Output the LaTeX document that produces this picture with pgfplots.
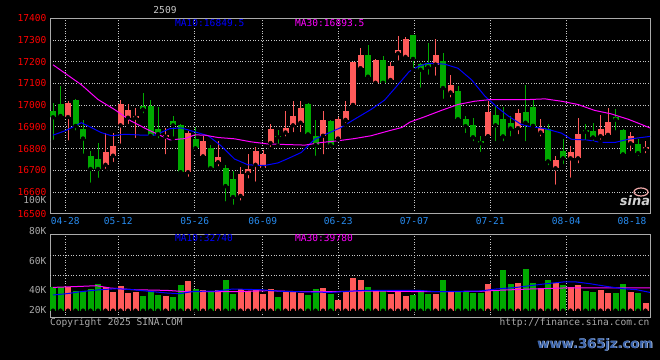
\documentclass[border=0pt]{standalone}
\usepackage{pgfplots}
\pgfplotsset{compat=1.18}
\usepackage{pgfplotstable}
\usepackage{fontspec}
\setmainfont{DejaVu Sans}
\newfontfamily\monof{DejaVu Sans Mono}
\newcommand\mf{\monof\fontsize{9.6}{11}\selectfont}
\definecolor{upc}{RGB}{255,90,90}
\definecolor{dnc}{RGB}{0,170,0}
\definecolor{gridc}{RGB}{200,200,200}
\definecolor{framec}{RGB}{170,170,170}
\definecolor{datec}{RGB}{40,140,240}
\definecolor{ma10}{RGB}{0,0,255}
\definecolor{ma30}{RGB}{255,0,255}
\definecolor{txtg}{RGB}{170,170,170}

% rising days: index, open, high, low, close, volume (K)
\pgfplotstableread{
i o h l c v
2 16945 17018 16828 17011 43.3
7 16725 16874 16697 16782 43.3
8 16767 16874 16729 16814 38.3
9 16907 17023 16813 17003 45.0
10 16942 17003 16904 16979 37.3
11 16942 16988 16839 16950 39.0
15 16855 16897 16764 16864 34.3
18 16691 16881 16661 16871 50.0
20 16764 16856 16752 16833 41.0
22 16737 16833 16709 16760 41.0
25 16582 16714 16551 16682 41.7
26 16687 16773 16653 16706 40.0
27 16725 16805 16638 16787 40.3
28 16711 16795 16708 16775 37.0
29 16825 16915 16798 16889 42.0
31 16874 16974 16846 16897 38.3
32 16907 17018 16866 16951 40.0
33 16919 17018 16866 16988 37.7
36 16859 16973 16764 16932 43.0
38 16846 16947 16843 16938 31.0
39 16932 17018 16909 16971 40.0
40 17001 17200 16998 17198 53.0
41 17170 17265 17154 17230 51.0
43 17103 17211 17099 17207 40.0
45 17116 17198 17111 17181 37.0
46 17239 17319 17196 17253 41.0
47 17222 17312 17213 17306 35.0
51 17187 17303 17126 17233 37.0
53 17058 17138 17026 17094 40.0
58 16856 17021 16856 16970 47.0
62 16894 16980 16857 16965 48.0
65 16874 16938 16846 16894 42.0
67 16709 16764 16624 16746 48.0
69 16755 16813 16656 16782 44.0
70 16755 16942 16723 16865 46.0
73 16857 16956 16831 16892 41.0
74 16863 16986 16859 16924 38.0
77 16824 16878 16778 16860 39.0
79 16798 16833 16769 16807 28.0
}\up

% falling days
\pgfplotstableread{
i o h l c v
0 16974 17008 16831 16944 43.3
1 17003 17088 16938 16950 43.3
3 17023 17029 16874 16904 39.3
4 16892 16930 16767 16846 40.0
5 16764 16789 16633 16706 41.7
6 16750 16824 16656 16706 47.0
12 16997 17056 16953 16980 35.0
13 16997 17023 16849 16859 39.3
14 16892 16991 16839 16866 36.0
16 16928 16951 16846 16907 34.0
17 16907 16912 16679 16691 46.0
19 16843 16900 16782 16801 41.7
21 16801 16816 16688 16709 40.0
23 16709 16723 16547 16627 51.0
24 16661 16696 16532 16577 37.0
30 16860 16884 16813 16852 34.0
34 17005 17008 16859 16865 36.0
35 16860 16932 16757 16816 42.0
37 16928 16932 16793 16816 37.0
42 17230 17275 17111 17131 44.0
44 17207 17225 17096 17103 40.0
48 17321 17325 17163 17213 36.0
49 17189 17193 17071 17163 40.0
50 17193 17284 17131 17175 37.0
52 17204 17242 17020 17079 51.0
54 17064 17088 16930 16935 40.0
55 16938 16951 16862 16903 40.0
56 16910 16942 16825 16852 38.0
57 16834 16860 16775 16825 38.0
59 16956 16997 16825 16907 41.0
60 16938 16991 16825 16856 61.0
61 16919 16951 16846 16892 47.0
63 16970 17093 16825 16919 62.0
64 16992 17023 16904 16904 48.0
66 16889 16915 16714 16741 51.0
68 16787 16842 16720 16755 46.0
71 16887 16915 16828 16878 40.0
72 16883 16919 16825 16851 39.0
75 16947 16983 16874 16933 38.0
76 16886 16889 16760 16773 47.0
78 16819 16842 16757 16779 38.0
}\down

\pgfplotsset{
  chartbase/.style={
    scale only axis, width=600bp, anchor=south west,
    xmin=-0.4, xmax=79.6,
    scaled x ticks=false, scaled y ticks=false,
    axis line style={framec, line width=1bp},
    major tick length=0pt,
    xtick={1.64,8.71,18.9,27.96,38.04,48.17,58.31,68.44},
    xmajorgrids,
    grid style={gridc, line width=0.9bp, dash pattern=on 1bp off 1.6bp},
    clip=true,
  },
  wick/.style={only marks, mark=none, forget plot,
    error bars/.cd, y dir=plus, y explicit, error mark=none,
    error bar style={line width=1bp, solid, color=#1}},
  body/.style={only marks, mark=none, forget plot,
    error bars/.cd, y dir=plus, y explicit, error mark=none,
    error bar style={line width=6bp, solid, color=#1}},
}

\begin{document}
\begin{tikzpicture}
\useasboundingbox (0,0) rectangle (660bp,360bp);
\fill[black] (0,0) rectangle (660bp,360bp);

% ---------- price panel ----------
\begin{axis}[chartbase,
  at={(50bp,146.3bp)}, height=195.4bp,
  ymin=16500, ymax=17400,
  ytick={16500,16600,16700,16800,16900,17000,17100,17200,17300,17400},
  yticklabels={16500,16600,16700,16800,16900,17000,17100,17200,17300,17400},
  yticklabel style={font=\mf, text=red},
  ymajorgrids,
  xticklabels={04-28,05-12,05-26,06-09,06-23,07-07,07-21,08-04},
  xticklabel style={font=\mf, text=datec},
  extra x ticks={79.6}, extra x tick labels={08-18},
  extra x tick style={xmajorgrids=false, xticklabel style={anchor=north east, font=\mf, text=datec}},
]
\addplot[wick=upc] table[x=i, y=l, y error expr=\thisrow{h}-\thisrow{l}] {\up};
\addplot[wick=dnc] table[x=i, y=l, y error expr=\thisrow{h}-\thisrow{l}] {\down};
\addplot[body=upc] table[x=i, y=o, y error expr=\thisrow{c}-\thisrow{o}] {\up};
\addplot[body=dnc] table[x=i, y=c, y error expr=\thisrow{o}-\thisrow{c}] {\down};
% MA10
\addplot[ma10, line width=1bp, mark=none] coordinates {
(0,16862) (1.56,16881) (3.78,16919) (5.1,16897) (6.4,16874) (7.8,16859) (9.6,16866)
(11.8,16862) (13.6,16862) (15.6,16892) (17.1,16895) (18.9,16877) (20.7,16859)
(22.4,16813) (24.2,16752) (26,16725) (28.2,16722) (30,16734) (31.4,16755)
(33.1,16782) (34.9,16843) (36.7,16871) (38.4,16897) (40.2,16935) (42.4,16980)
(44.2,17023) (46,17094) (47.5,17155) (48.7,17178) (50,17193) (52.2,17189)
(54,17170) (55.8,17117) (57.6,17041) (59.3,16988) (60.7,16950) (62.4,16912)
(63.6,16901) (65.6,16892) (67.8,16871) (69.1,16843) (71.3,16839) (73.1,16828)
(74.9,16828) (76.7,16843) (78,16849) (79.6,16856)};
% MA30
\addplot[ma30, line width=1bp, mark=none] coordinates {
(0,17186) (1.56,17148) (3.78,17094) (6,17026) (8.2,16980) (10.4,16927) (12.7,16886)
(14.4,16859) (15.6,16840) (17.6,16846) (18.9,16863) (20.2,16862) (22,16851)
(24.2,16845) (26.4,16831) (28.7,16821) (31.6,16818) (33.6,16816) (35.8,16828)
(38,16836) (40.2,16846) (42.4,16859) (44.7,16881) (46.5,16897) (47.6,16922)
(49.6,16947) (51.8,16976) (54,17003) (56.2,17018) (58.4,17026) (63.6,17026)
(65.6,17029) (67.8,17018) (70,17003) (72.2,16976) (74.4,16960) (76.7,16935)
(78.4,16912) (79.6,16895)};
\end{axis}

% ---------- volume panel ----------
\begin{axis}[chartbase,
  at={(50bp,42bp)}, height=83.7bp,
  ymin=12.7, ymax=96.4,
  ytick={20.4,40.4,70}, yticklabels={20K,40K,60K},
  yticklabel style={font=\mf, text=txtg},
  extra y ticks={55.4,75.4}, extra y tick labels={},
  extra y tick style={grid=major},
  xmajorticks=false,
]
\addplot[body=upc] table[x=i, y expr=20, y error expr=\thisrow{v}-20] {\up};
\addplot[body=dnc] table[x=i, y expr=20, y error expr=\thisrow{v}-20] {\down};
\addplot[ma30, line width=1bp, mark=none] coordinates {
(0,43.3) (3.6,44.3) (5.8,45) (7.6,42.7) (10.7,41) (15.2,40.3) (17.8,39) (24,39)
(28.5,40) (32.9,39) (36.9,39) (41.4,39.7) (50.3,39) (56.9,39.3) (59.1,40.3)
(63.6,41.7) (68,42.7) (73.8,42.7) (79.6,42.7)};
\addplot[ma10, line width=1bp, mark=none] coordinates {
(0,35.7) (1.8,37) (4,39.3) (6.3,41) (8.5,42) (10.7,41) (12.9,39.3) (15.2,37.7)
(16.9,37) (18.7,39.3) (21.8,39.7) (24,41.7) (27.6,41) (30.7,39.3) (36.9,38.3)
(41.4,40.3) (45.8,40.3) (48.9,40.3) (51.1,39) (56.9,39.7) (59.1,41.7) (61.8,43.3)
(63.6,45) (65.8,47) (68,48.7) (69.8,48.7) (71.6,47) (73.8,44.3) (76,42)
(77.8,41) (79.6,38.3)};
\end{axis}

% ---------- texts ----------
\node[font=\mf, text=gridc] at (165bp,350bp) {2509};
\node[font=\mf, text=ma10, anchor=west, inner sep=0] at (175bp,336.5bp) {MA10:16849.5};
\node[font=\mf, text=ma30, anchor=west, inner sep=0] at (295bp,336.5bp) {MA30:16893.5};
\node[font=\mf, text=ma10, anchor=west, inner sep=0] at (175bp,121.5bp) {MA10:32740};
\node[font=\mf, text=ma30, anchor=west, inner sep=0] at (295bp,121.5bp) {MA30:39780};
\node[font=\mf, text=txtg, anchor=east, inner sep=0] at (46.5bp,159.8bp) {100K};
\node[font=\mf, text=txtg, anchor=east, inner sep=0] at (46.5bp,129.3bp) {80K};
\node[font=\mf, text=txtg, anchor=base west, inner sep=0] at (50bp,34.5bp) {Copyright 2025 SINA.COM};
\node[font=\mf, text=txtg, anchor=base east, inner sep=0] at (649.5bp,34.5bp) {http://finance.sina.com.cn};
% sina logo watermark
\draw[color={rgb,255:red,240;green,170;blue,170}, line width=1.2bp] (641bp,168bp) ellipse (7bp and 4bp);
\node[font=\fontsize{13}{13}\selectfont\bfseries\itshape, text={rgb,255:red,210;green,210;blue,210}] at (635bp,159bp) {sina};
% site watermark
\node[font=\fontsize{13.2}{14}\selectfont\bfseries, text={rgb,255:red,200;green,215;blue,235}, inner sep=0] at (595.7bp,14.6bp) {www.365jz.com};
\node[font=\fontsize{13.2}{14}\selectfont\bfseries, text={rgb,255:red,60;green,100;blue,170}, inner sep=0] at (595bp,15.2bp) {www.365jz.com};
\end{tikzpicture}
\end{document}
